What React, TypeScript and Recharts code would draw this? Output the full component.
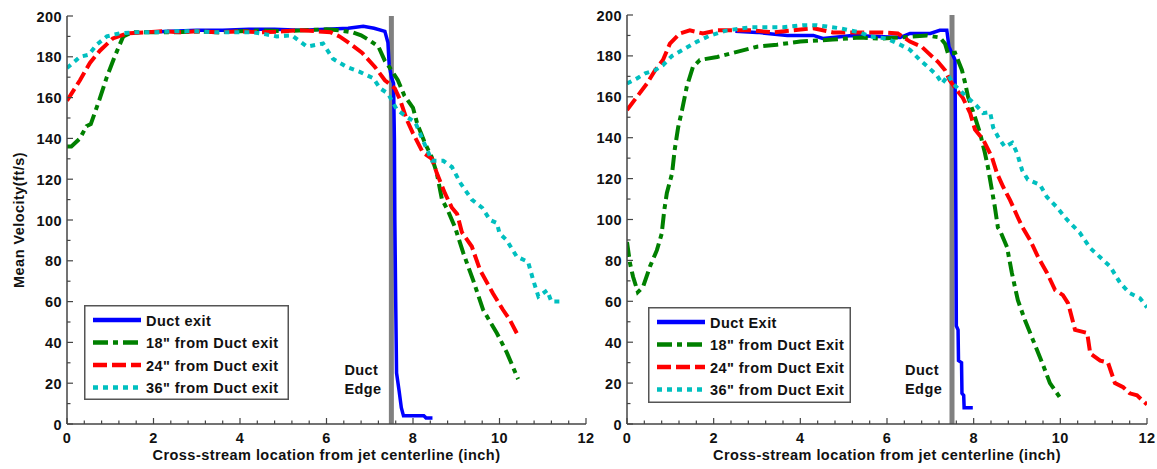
import { LineChart, Line, XAxis, YAxis, ReferenceLine, Legend, Label } from 'recharts';

type Pt = [number, number];

// x = cross-stream location (inch), v = mean velocity (ft/s)
const leftExit: Pt[] = [
  [1.8, 192], [2.4, 192.5], [3.0, 193], [3.6, 193], [4.2, 193.5], [4.8, 193.5], [5.4, 193], [6.0, 193.5],
  [6.5, 194], [6.85, 195], [7.1, 194], [7.35, 192.5], [7.42, 187], [7.45, 176], [7.5, 170], [7.55, 167],
  [7.57, 140], [7.58, 100], [7.6, 60], [7.62, 25], [7.68, 16], [7.73, 8], [7.78, 4], [8.0, 4], [8.25, 4],
  [8.3, 3], [8.45, 3],
];
const left18: Pt[] = [
  [0, 136], [0.1, 136], [0.3, 140], [0.45, 146], [0.55, 147], [0.75, 159], [0.92, 170], [1.1, 180], [1.3, 190],
  [1.5, 192], [2, 192], [2.5, 192], [3, 192.5], [3.5, 192], [4, 192.5], [4.5, 193], [5, 192.5], [5.5, 193],
  [6.0, 193.5], [6.3, 193], [6.6, 192], [6.8, 190.5], [7.0, 188], [7.2, 185], [7.35, 178], [7.5, 173.5],
  [7.65, 168.5], [7.8, 161], [8.0, 155], [8.1, 147], [8.28, 137.5], [8.43, 131], [8.55, 123], [8.67, 110],
  [8.8, 105], [8.97, 96.5], [9.16, 84], [9.39, 70.5], [9.62, 56], [9.94, 44.5], [10.17, 35], [10.43, 22],
];
const left24: Pt[] = [
  [0, 158.5], [0.3, 168.5], [0.53, 177], [0.76, 183], [1.06, 189], [1.39, 191.5], [1.8, 192], [2.2, 192.5],
  [2.6, 192], [3.0, 192.5], [3.5, 192], [4.0, 192.5], [4.5, 192], [5.0, 192.5], [5.4, 193], [5.8, 192.5],
  [6.1, 192], [6.3, 190], [6.54, 186.5], [6.82, 182], [7.12, 175], [7.35, 168.5], [7.58, 164.5], [7.7, 159],
  [7.86, 149], [8.0, 142.5], [8.23, 133], [8.44, 130], [8.55, 123], [8.74, 113], [8.9, 106], [9.02, 103],
  [9.13, 94], [9.36, 87], [9.55, 75.5], [9.85, 64], [10.08, 56], [10.24, 51], [10.4, 44.5],
];
const left36: Pt[] = [
  [0, 174.5], [0.3, 180], [0.5, 181], [0.69, 186], [0.92, 190], [1.22, 191.5], [1.6, 192], [2.0, 192],
  [2.5, 192.5], [3.0, 192.5], [3.5, 192], [4.0, 192], [4.3, 192], [4.6, 191], [4.85, 190], [5.2, 190.5],
  [5.55, 185], [5.92, 186.5], [6.15, 179], [6.47, 175], [6.78, 172.5], [7.08, 169.5], [7.24, 164.5],
  [7.42, 162], [7.63, 154], [7.86, 150.5], [8.05, 148], [8.2, 140.5], [8.44, 129], [8.7, 129], [8.9, 126],
  [9.1, 118], [9.36, 110], [9.6, 106], [9.78, 100], [9.94, 98.5], [10.0, 93.5], [10.17, 90], [10.4, 82],
  [10.66, 79.5], [10.78, 70.5], [10.9, 62.5], [11.1, 65.5], [11.2, 60], [11.45, 60],
];

const rightExit: Pt[] = [
  [2.5, 192], [3.0, 191.5], [3.7, 190], [4.3, 190], [4.52, 188.5], [5.2, 190], [5.8, 189.5], [6.3, 189],
  [6.53, 191], [7.0, 191], [7.22, 192.5], [7.38, 192.5], [7.43, 184.5], [7.57, 178], [7.59, 100], [7.6, 48],
  [7.64, 46], [7.65, 31], [7.72, 30], [7.73, 15], [7.77, 14], [7.78, 8], [7.98, 8],
];
const right18: Pt[] = [
  [0, 89], [0.07, 78.5], [0.14, 72], [0.25, 64.5], [0.37, 67], [0.53, 77], [0.69, 85], [0.8, 93], [0.86, 104.5],
  [0.92, 113], [1.04, 122.5], [1.1, 134], [1.18, 145], [1.27, 153.5], [1.38, 165], [1.52, 174.5], [1.68, 178],
  [2.08, 179.5], [2.45, 181.5], [3.0, 184.5], [3.46, 185.5], [4.0, 187], [4.75, 188], [5.38, 189], [5.84, 188.5],
  [6.3, 189], [6.92, 190], [7.22, 189], [7.34, 186], [7.41, 181], [7.57, 181.5], [7.73, 173], [7.8, 167],
  [7.87, 160], [8.03, 150], [8.15, 142], [8.26, 132.5], [8.33, 125.5], [8.42, 114.5], [8.49, 106], [8.56, 96],
  [8.6, 95], [8.77, 86.5], [8.88, 74], [9.02, 60.5], [9.18, 51], [9.37, 41], [9.58, 30], [9.76, 20], [9.99, 13],
];
const right24: Pt[] = [
  [0, 153.5], [0.23, 160], [0.46, 166.5], [0.65, 173], [0.83, 178], [0.99, 186], [1.22, 191], [1.45, 192.5],
  [1.75, 191], [2.08, 192.5], [2.84, 192.5], [3.37, 191.5], [3.83, 192.5], [4.3, 193.5], [4.75, 191.5],
  [5.22, 191.5], [5.84, 191.5], [6.25, 191], [6.53, 187], [6.8, 184.5], [6.95, 181.5], [7.18, 177], [7.34, 173],
  [7.45, 168], [7.62, 163], [7.75, 159.5], [7.92, 152], [8.03, 144], [8.22, 139], [8.42, 130.5], [8.54, 122.5],
  [8.68, 116], [8.84, 109.5], [9.02, 101], [9.12, 96.5], [9.3, 90], [9.49, 81.5], [9.69, 74], [9.88, 65.5],
  [10.06, 63], [10.18, 59], [10.34, 46], [10.62, 44.5], [10.69, 34.5], [10.92, 31], [11.1, 30], [11.26, 20],
  [11.45, 18], [11.6, 15], [11.77, 14], [12.0, 9.5],
];
const right36: Pt[] = [
  [0, 166.5], [0.23, 169], [0.42, 171.5], [0.65, 173], [0.83, 175.5], [1.04, 180], [1.29, 183], [1.62, 187],
  [1.92, 190], [2.31, 192.5], [2.84, 194], [3.6, 194], [4.06, 195], [4.38, 195], [4.92, 193.5], [5.38, 191.5],
  [5.6, 189.5], [6.0, 188.5], [6.3, 185.5], [6.53, 183], [6.76, 178], [6.95, 174.5], [7.15, 170.5], [7.27, 166.5],
  [7.41, 170.5], [7.52, 166.5], [7.69, 163], [7.84, 160], [8.03, 156.5], [8.22, 152], [8.38, 152.5], [8.45, 145],
  [8.56, 140.5], [8.72, 135.5], [8.89, 137.5], [9.0, 132.5], [9.12, 124], [9.25, 119.5], [9.53, 117], [9.69, 111],
  [9.92, 106], [10.15, 100], [10.45, 93.5], [10.69, 86], [10.92, 81.5], [11.15, 77], [11.38, 69], [11.6, 64],
  [11.84, 61.5], [12.0, 57],
];

const leftNames = ['Duct exit', '18" from Duct exit', '24" from Duct exit', '36" from Duct exit'];
const rightNames = ['Duct Exit', '18" from Duct Exit', '24" from Duct Exit', '36" from Duct Exit'];

const xMajor = [0, 2, 4, 6, 8, 10, 12];
const yMajor = [0, 20, 40, 60, 80, 100, 120, 140, 160, 180, 200];
const xTicks = Array.from({ length: 31 }, (_, i) => Math.round(i * 4) / 10);
const yTicks = Array.from({ length: 21 }, (_, i) => i * 10);
const ductEdge = 7.5;

const colors = ['#0000ff', '#008000', '#ff0000', '#00bfbf'];
const dashes = [undefined, '15 5 5 5', '14 5', '5 5'];
const widths = [3.5, 4, 4, 4];

const AXIS = '#444';
const FONT = '"Liberation Sans", Arial, sans-serif';
const txt = { fontFamily: FONT, fontWeight: 700, fontSize: 14.5, letterSpacing: 0.45, fill: '#111' };

const toRows = (pts: Pt[]) => pts.map(([x, v]) => ({ x, v }));

const BottomTick = ({ x, y, payload }: any) => {
  const major = xMajor.includes(payload.value);
  return (
    <g>
      <line x1={x} x2={x} y1={y} y2={y - (major ? 6 : 3.5)} stroke={AXIS} strokeWidth={1.2} />
      {major && <text x={x} y={y + 18.5} textAnchor="middle" style={txt}>{payload.value}</text>}
    </g>
  );
};
const TopTick = ({ x, y, payload }: any) => {
  const major = xMajor.includes(payload.value);
  return <line x1={x} x2={x} y1={y} y2={y + (major ? 6 : 3.5)} stroke={AXIS} strokeWidth={1.2} />;
};
const LeftTick = ({ x, y, payload }: any) => {
  const major = yMajor.includes(payload.value);
  return (
    <g>
      <line x1={x} x2={x + (major ? 6 : 3.5)} y1={y} y2={y} stroke={AXIS} strokeWidth={1.2} />
      {major && <text x={x - 5} y={y + 5.5} textAnchor="end" style={txt}>{payload.value}</text>}
    </g>
  );
};
const RightTick = ({ x, y, payload }: any) => {
  const major = yMajor.includes(payload.value);
  return <line x1={x} x2={x - (major ? 6 : 3.5)} y1={y} y2={y} stroke={AXIS} strokeWidth={1.2} />;
};

function LegendBox({ names, w, h }: { names: string[]; w: number; h: number }) {
  return (
    <svg width={w} height={h} style={{ display: 'block' }}>
      <rect x={0.75} y={0.75} width={w - 1.5} height={h - 1.5} fill="#fff" stroke="#555" strokeWidth={1.5} />
      {names.map((n, i) => {
        const cy = 15 + i * 22.5;
        return (
          <g key={n}>
            <line x1={9} x2={57} y1={cy} y2={cy} stroke={colors[i]} strokeWidth={4.5} strokeDasharray={dashes[i]} />
            <text x={62} y={cy + 5.5} style={txt}>{n}</text>
          </g>
        );
      })}
    </svg>
  );
}

type PanelProps = {
  series: Pt[][];
  names: string[];
  left: number;
  width: number;
  top: number;
  right: number;
  yLabel?: string;
  legend: { left: number; top: number; w: number; h: number };
};

function Panel({ series, names, left, width, top, right, yLabel, legend }: PanelProps) {
  return (
    <div style={{ position: 'absolute', left, top: 0 }}>
      <LineChart width={width} height={469} margin={{ top, right, bottom: 0, left: 0 }}>
        <XAxis
          xAxisId="b" dataKey="x" type="number" domain={[0, 12]} allowDataOverflow ticks={xTicks} interval={0}
          height={45} tickSize={0} tickMargin={0} tick={BottomTick} tickLine={false}
          axisLine={{ stroke: AXIS, strokeWidth: 1.5 }}
        >
          <Label
            content={({ viewBox }: any) => (
              <text x={viewBox.x + viewBox.width / 2} y={viewBox.y + 35.5} textAnchor="middle" style={txt}>
                Cross-stream location from jet centerline (inch)
              </text>
            )}
          />
        </XAxis>
        <XAxis
          xAxisId="t" orientation="top" type="number" domain={[0, 12]} allowDataOverflow ticks={xTicks}
          interval={0} height={0} tickSize={0} tickMargin={0} tick={TopTick} tickLine={false}
          axisLine={{ stroke: AXIS, strokeWidth: 1.5 }}
        />
        <YAxis
          yAxisId="l" type="number" domain={[0, 200]} allowDataOverflow ticks={yTicks} interval={0} width={67}
          tickSize={0} tickMargin={0} tick={LeftTick} tickLine={false} axisLine={{ stroke: AXIS, strokeWidth: 1.5 }}
        >
          {yLabel && (
            <Label
              content={({ viewBox }: any) => {
                const cx = 19;
                const cy = viewBox.y + viewBox.height / 2;
                return (
                  <text x={cx} y={cy} transform={`rotate(-90 ${cx} ${cy})`} textAnchor="middle" dy={5} style={txt}>
                    {yLabel}
                  </text>
                );
              }}
            />
          )}
        </YAxis>
        <YAxis
          yAxisId="r" orientation="right" type="number" domain={[0, 200]} allowDataOverflow ticks={yTicks}
          interval={0} width={0} tickSize={0} tickMargin={0} tick={RightTick} tickLine={false}
          axisLine={{ stroke: AXIS, strokeWidth: 1.5 }}
        />
        <ReferenceLine
          xAxisId="b" yAxisId="l" x={ductEdge} stroke="#808080" strokeWidth={5}
          label={({ viewBox }: any) => (
            <g>
              <text x={viewBox.x - 47} y={viewBox.y + viewBox.height - 49} style={txt}>Duct</text>
              <text x={viewBox.x - 47} y={viewBox.y + viewBox.height - 30} style={txt}>Edge</text>
            </g>
          )}
        />
        {series.map((pts, i) => (
          <Line
            key={names[i]}
            xAxisId="b"
            yAxisId="l"
            data={toRows(pts)}
            dataKey="v"
            name={names[i]}
            type="linear"
            stroke={colors[i]}
            strokeWidth={widths[i]}
            strokeDasharray={dashes[i]}
            dot={false}
            activeDot={false}
            isAnimationActive={false}
          />
        ))}
        <Legend
          layout="horizontal"
          align="center"
          verticalAlign="middle"
          wrapperStyle={{ left: legend.left, top: legend.top, width: legend.w, height: legend.h }}
          content={() => <LegendBox names={names} w={legend.w} h={legend.h} />}
        />
      </LineChart>
    </div>
  );
}

export default function App() {
  return (
    <div style={{ position: 'absolute', left: 0, top: 0, width: 1157, height: 469, background: '#fff' }}>
      <Panel
        series={[leftExit, left18, left24, left36]}
        names={leftNames}
        left={0}
        width={595}
        top={16}
        right={9}
        yLabel="Mean Velocity(ft/s)"
        legend={{ left: 84, top: 305, w: 205, h: 95 }}
      />
      <Panel
        series={[rightExit, right18, right24, right36]}
        names={rightNames}
        left={560}
        width={597}
        top={15}
        right={10}
        legend={{ left: 88, top: 307, w: 203, h: 96 }}
      />
    </div>
  );
}
